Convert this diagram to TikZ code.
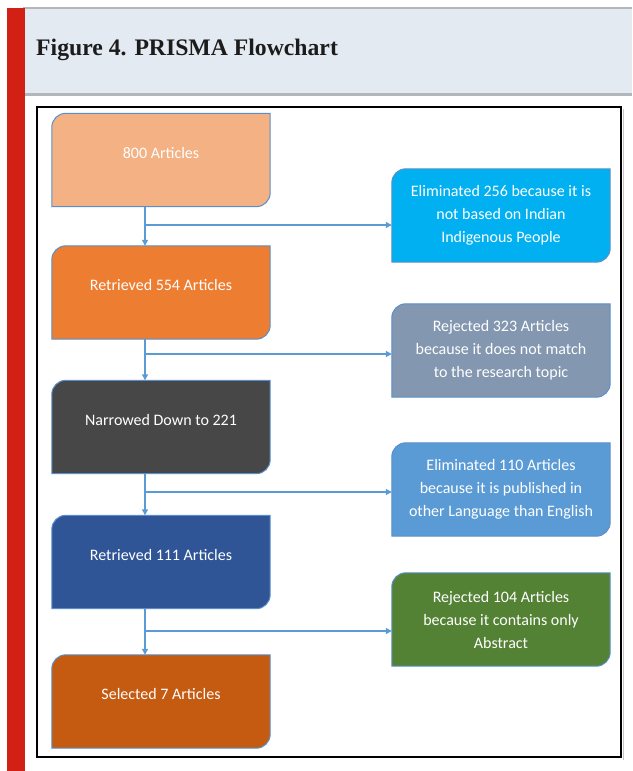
\documentclass[tikz,border=0pt]{standalone}
\usepackage{fontspec}
\setmainfont{Liberation Serif}
\newfontfamily\boxfont{Carlito}
\usetikzlibrary{calc}
\usetikzlibrary{arrows.meta}
\usetikzlibrary{backgrounds}
\usepackage{xcolor}
\pgfdeclarelayer{boxlayer}
\pgfsetlayers{background,boxlayer,main}

\definecolor{peach}{HTML}{F4B183}
\definecolor{orangebox}{HTML}{ED7D31}
\definecolor{darkgray}{HTML}{474747}
\definecolor{navybox}{HTML}{2F5597}
\definecolor{rustbox}{HTML}{C55A11}
\definecolor{cyanbox}{HTML}{00B0F0}
\definecolor{slatebox}{HTML}{8497B0}
\definecolor{bluebox}{HTML}{5B9BD5}
\definecolor{greenbox}{HTML}{548235}
\definecolor{flowblue}{HTML}{5B9BD5}
\definecolor{boxedge}{HTML}{5A8FCB}
\definecolor{headfill}{HTML}{E4EAF2}
\definecolor{headline}{HTML}{B3B6BA}
\definecolor{redbar}{HTML}{D22114}
\definecolor{titleblack}{HTML}{1C1C1C}

\begin{document}
\begin{tikzpicture}[x=1pt, y=1pt]
        % ================= styles =================
        \tikzset{
            % box text (shape drawn on its own layer)
            stepnode/.style={rectangle, minimum width=218pt, minimum height=93pt, inner sep=0pt, text=white, align=center, font=\boxfont\fontsize{16}{23}\selectfont},
            % left column: text sits a little above the middle
            keepnode/.style={stepnode, text height=11pt, text depth=15pt},
            % connectors
            flow_line/.style={line width=1.3pt, flowblue},
            flow_arrow/.style={flow_line, -{Triangle[length=6pt, width=6pt]}},
            % outer frame
            frame_line/.style={line width=2.5pt, black}
        }
        \def\Rc{14pt}
        \def\Xs{-16pt}

        % ================= page, header and frame =================
        \useasboundingbox (0,0) rectangle (632,-771);
        \begin{scope}[on background layer]
            \fill[white] (0,0) rectangle (632,-771);
            \fill[headfill] (25,-8) rectangle (632,-94);
            \fill[headline] (23,-7) rectangle (632,-9);
            \fill[headline] (23,-93) rectangle (632,-95.5);
            \fill[redbar] (7,-8) rectangle (25,-771);
        \end{scope}
        \node[anchor=base west, inner sep=0pt, text=titleblack, font=\bfseries\fontsize{23.7}{26}\selectfont] (title) at (36,-55) {Figure 4. PRISMA Flowchart};
        \draw[gray!45, line width=1pt] (623.5,-109) -- (623.5,-759.5);
        \draw[frame_line] (37,-107) rectangle (621,-757);

        % ================= left column (kept articles) =================
        \node[keepnode] (n800) at (161,-160) {800 Articles};
        \node[keepnode] (n554) at (161,-292.5) {Retrieved 554 Articles};
        \node[keepnode] (n221) at (161,-427) {Narrowed Down to 221};
        \node[keepnode] (n111) at (161,-562) {Retrieved 111 Articles};
        \node[keepnode] (n7) at (161,-701.5) {Selected 7 Articles};

        % ================= right column (removed articles) =================
        \node[stepnode] (r256) at (501,-215.5) {Eliminated 256 because it is\\not based on Indian\\Indigenous People};
        \node[stepnode] (r323) at (501,-350.5) {Rejected 323 Articles\\because it does not match\\to the research topic};
        \node[stepnode] (r110) at (501,-489.5) {Eliminated 110 Articles\\because it is published in\\other Language than English};
        \node[stepnode] (r104) at (501,-619.5) {Rejected 104 Articles\\because it contains only\\Abstract};

        % ================= box shapes (round diagonal corners) =================
        \begin{pgfonlayer}{boxlayer}
            \foreach \n/\c in {n800/peach, n554/orangebox, n221/darkgray, n111/navybox, n7/rustbox,
                               r256/cyanbox, r323/slatebox, r110/bluebox, r104/greenbox}{
                \filldraw[fill=\c, draw=boxedge, line width=1pt]
                    (\n.south west) -- ([yshift=-\Rc]\n.north west)
                    arc[start angle=180, end angle=90, radius=\Rc]
                    -- (\n.north east) -- ([yshift=\Rc]\n.south east)
                    arc[start angle=0, end angle=-90, radius=\Rc] -- cycle;
            }
        \end{pgfonlayer}

        % ================= connectors =================
        \foreach \a/\b/\r/\y in {n800/n554/r256/-225, n554/n221/r323/-354, n221/n111/r110/-492, n111/n7/r104/-631}{
            \draw[flow_arrow] ([xshift=\Xs]\a.south) -- ([xshift=\Xs]\b.north);
            \coordinate (branch) at ([xshift=\Xs]\a.south |- 0,\y);
            \draw[flow_arrow] (branch) -- (branch -| \r.west);
        }

\end{tikzpicture}
\end{document}
